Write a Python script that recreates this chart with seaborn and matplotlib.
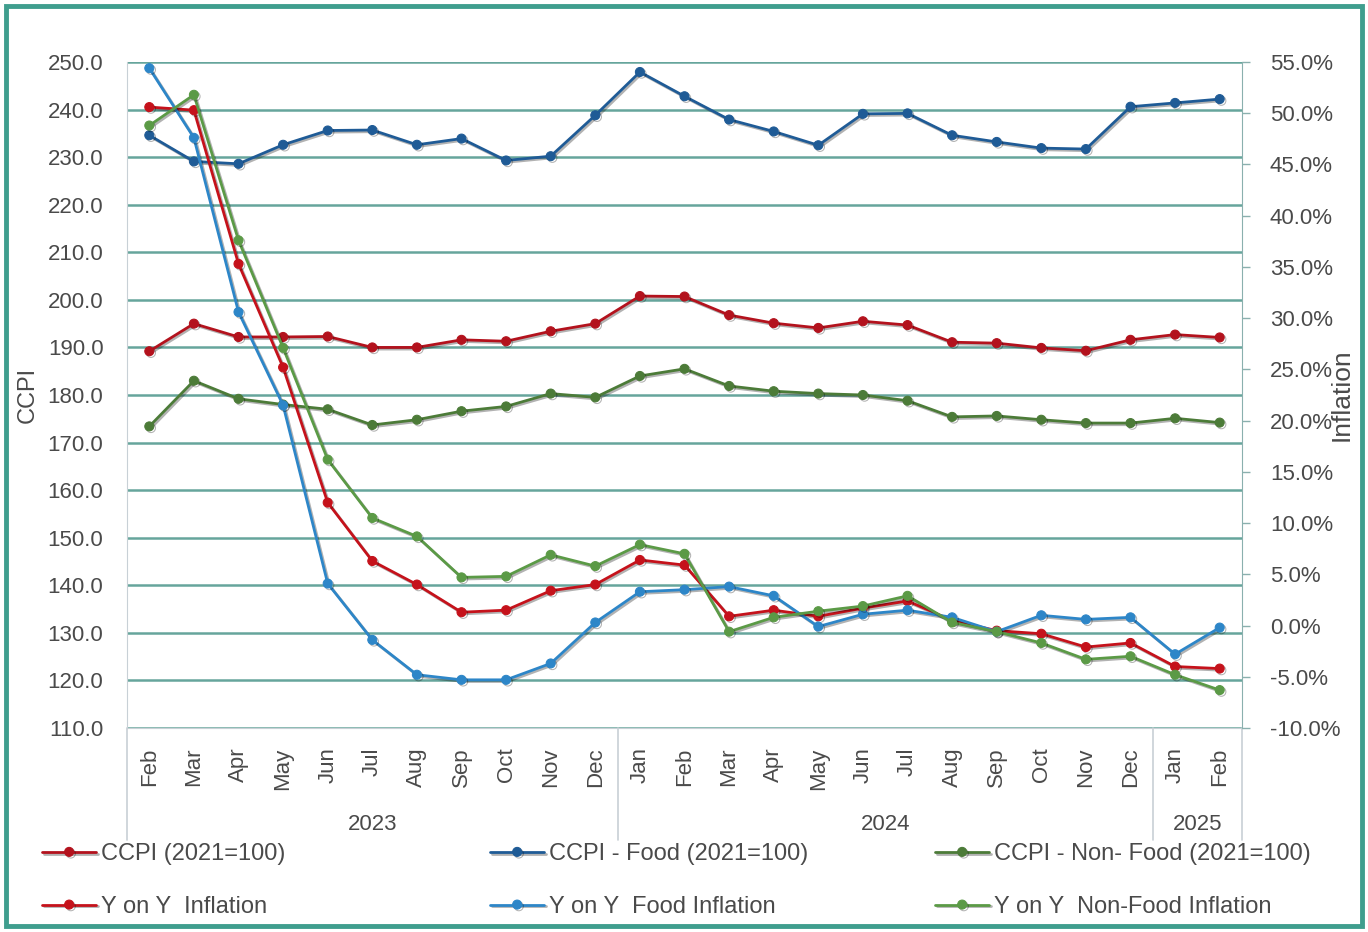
import matplotlib
matplotlib.use("Agg")
import matplotlib.pyplot as plt
import matplotlib.patheffects as pe
from matplotlib.patches import Rectangle
from matplotlib.ticker import FuncFormatter
import seaborn as sns
import numpy as np
import pandas as pd

# Data (Feb 2023 - Feb 2025)
months = ['Feb', 'Mar', 'Apr', 'May', 'Jun', 'Jul', 'Aug', 'Sep', 'Oct', 'Nov', 'Dec',
          'Jan', 'Feb', 'Mar', 'Apr', 'May', 'Jun', 'Jul', 'Aug', 'Sep', 'Oct', 'Nov', 'Dec',
          'Jan', 'Feb']
years = ['2023', '2024', '2025']
months_per_year = [11, 12, 2]

ccpi = [189.2, 195.0, 192.2, 192.2, 192.3, 190.0, 190.0, 191.6, 191.3, 193.4, 195.0,
        200.8, 200.7, 196.8, 195.1, 194.1, 195.5, 194.7, 191.1, 190.9, 189.9, 189.3, 191.6,
        192.7, 192.1]
ccpi_food = [234.6, 229.1, 228.6, 232.6, 235.6, 235.7, 232.6, 233.9, 229.3, 230.2, 238.8,
             247.9, 242.8, 237.9, 235.4, 232.5, 239.1, 239.2, 234.6, 233.2, 231.9, 231.7, 240.6,
             241.4, 242.2]
ccpi_nonfood = [173.4, 183.0, 179.2, 178.0, 177.0, 173.7, 174.8, 176.6, 177.6, 180.3, 179.5,
                184.0, 185.5, 181.9, 180.8, 180.3, 180.0, 178.8, 175.4, 175.6, 174.8, 174.1, 174.1,
                175.1, 174.2]

yoy = [50.6, 50.3, 35.3, 25.2, 12.0, 6.3, 4.0, 1.3, 1.5, 3.4, 4.0,
       6.4, 5.9, 0.9, 1.5, 0.9, 1.7, 2.4, 0.5, -0.5, -0.8, -2.1, -1.7,
       -4.0, -4.2]
yoy_food = [54.4, 47.6, 30.6, 21.5, 4.1, -1.4, -4.8, -5.3, -5.3, -3.7, 0.3,
            3.3, 3.5, 3.8, 2.9, -0.1, 1.1, 1.5, 0.8, -0.6, 1.0, 0.6, 0.8,
            -2.8, -0.2]
yoy_nonfood = [48.8, 51.8, 37.6, 27.1, 16.2, 10.5, 8.7, 4.7, 4.8, 6.9, 5.8,
               7.9, 7.0, -0.6, 0.8, 1.4, 1.9, 2.9, 0.3, -0.6, -1.7, -3.3, -3.0,
               -4.8, -6.3]

df = pd.DataFrame({
    'idx': np.arange(len(months)),
    'ccpi': ccpi, 'ccpi_food': ccpi_food, 'ccpi_nonfood': ccpi_nonfood,
    'yoy': yoy, 'yoy_food': yoy_food, 'yoy_nonfood': yoy_nonfood,
})

sns.set_style('white')
plt.rcParams['font.family'] = ['Liberation Sans', 'DejaVu Sans']
text_color = '#4a4a4a'
grid_color = '#66a59c'
sep_color = '#c8d0d6'

fig = plt.figure(figsize=(13.68, 9.32), dpi=100)
ax = fig.add_axes([127 / 1368, 1 - 728 / 932, 1115 / 1368, 666 / 932])
ax2 = ax.twinx()

shadow = [pe.SimpleLineShadow(offset=(1.2, -1.2), alpha=0.3, shadow_color='black'), pe.Normal()]

left_series = [('ccpi', '#b3121d', 'CCPI (2021=100)'),
               ('ccpi_food', '#1f5b96', 'CCPI - Food (2021=100)'),
               ('ccpi_nonfood', '#4c7b38', 'CCPI - Non- Food (2021=100)')]
right_series = [('yoy', '#c5121b', 'Y on Y  Inflation'),
                ('yoy_food', '#2d86c8', 'Y on Y  Food Inflation'),
                ('yoy_nonfood', '#5b9a46', 'Y on Y  Non-Food Inflation')]

for col, color, label in left_series:
    sns.lineplot(data=df, x='idx', y=col, ax=ax, color=color, marker='o', markersize=6.5,
                 markeredgecolor=color, linewidth=2.0, label=label, legend=False,
                 path_effects=shadow)
for col, color, label in right_series:
    sns.lineplot(data=df, x='idx', y=col, ax=ax2, color=color, marker='o', markersize=6.5,
                 markeredgecolor=color, linewidth=2.0, label=label, legend=False,
                 path_effects=shadow)

# Left axis
ax.set_xlim(-0.5, len(months) - 0.5)
ax.set_ylim(110, 250)
ax.set_yticks(np.arange(110, 251, 10))
ax.yaxis.set_major_formatter(FuncFormatter(lambda v, p: f'{v:.1f}'))
ax.grid(axis='y', color=grid_color, linewidth=1.8)
ax.grid(axis='x', visible=False)
ax.set_axisbelow(True)
ax.tick_params(axis='y', length=0, pad=17, labelsize=16, labelcolor=text_color)
ax.set_xticks(df['idx'])
ax.set_xticklabels(months, rotation=90)
ax.tick_params(axis='x', length=0, pad=14, labelsize=16, labelcolor=text_color)
ax.set_xlabel('')
ax.set_ylabel('CCPI', fontsize=17, color=text_color)
ax.yaxis.set_label_coords(-0.079, 0.5)
for s in ['top', 'right']:
    ax.spines[s].set_visible(False)
ax.spines['left'].set_color(sep_color)
ax.spines['bottom'].set_color(sep_color)

# Right axis
ax2.set_ylim(-10, 55)
ax2.set_yticks(np.arange(-10, 56, 5))
ax2.yaxis.set_major_formatter(FuncFormatter(lambda v, p: f'{v:.1f}%'))
ax2.tick_params(axis='y', length=6, width=1, color='#8ab0ae', pad=14, labelsize=16,
                labelcolor=text_color)
ax2.set_ylabel('Inflation', fontsize=19, color=text_color, rotation=90)
ax2.yaxis.set_label_coords(1.079, 0.5)
for s in ['top', 'left', 'bottom']:
    ax2.spines[s].set_visible(False)
ax2.spines['right'].set_color('#8ab0ae')
ax2.grid(False)

# Year groups under the month labels
bounds = np.concatenate([[0], np.cumsum(months_per_year)]) - 0.5
trans = ax.get_xaxis_transform()
for b in bounds:
    ax.plot([b, b], [0, -0.168], transform=trans, clip_on=False, color=sep_color, lw=1.2)
for yr, a, b in zip(years, bounds[:-1], bounds[1:]):
    ax.text((a + b) / 2, -0.145, yr, transform=trans, ha='center', va='center',
            fontsize=16, color=text_color)

# Legends: three columns, two rows
h1, l1 = ax.get_legend_handles_labels()
h2, l2 = ax2.get_legend_handles_labels()
for lg in (ax.get_legend(), ax2.get_legend()):
    if lg is not None:
        lg.remove()
for i, xpx in enumerate([42, 490, 935]):
    fig.legend([h1[i], h2[i]], [l1[i], l2[i]], loc='center left',
               bbox_to_anchor=(xpx / 1368, 1 - 880.5 / 932), frameon=False, fontsize=17,
               handlelength=2.3, handletextpad=0.2, labelspacing=1.3, borderpad=0,
               borderaxespad=0, labelcolor=text_color)

# Outer frame
fig.patches.append(Rectangle((6 / 1368, 6 / 932), 1356 / 1368, 920 / 932,
                             transform=fig.transFigure, fill=False, ec='#3f9e8e', lw=3.5))

fig.savefig('out.png', dpi=100, facecolor='white')
